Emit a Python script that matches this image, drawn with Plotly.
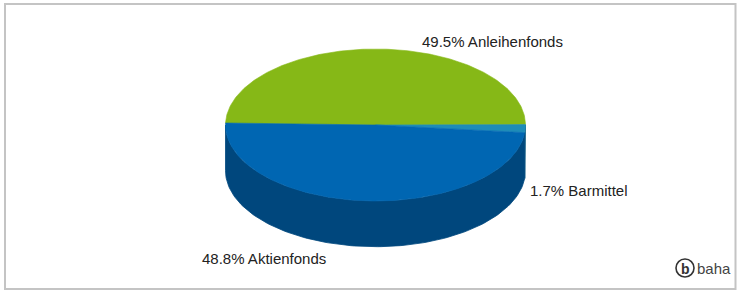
import numpy as np
import plotly.graph_objects as go

# ---- data ----
categories = ["Anleihenfonds", "Barmittel", "Aktienfonds"]
values = [49.5, 1.7, 48.8]
top_colors = ["#86B817", "#1E8CB8", "#0066B2"]
side_colors = ["#5E8210", "#146283", "#00477D"]
label_texts = [f"{v:.1f}% {c}" for c, v in zip(categories, values)]

# ---- geometry (layout) ----
W, H = 737, 291
cx, cy, rx, ry, depth = 375.5, 125.0, 150.0, 76.0, 45.7
start_angle = 178.5  # degrees, slices proceed clockwise

def pt(theta_deg, dy=0.0):
    t = np.radians(theta_deg)
    return cx + rx * np.cos(t), cy - ry * np.sin(t) + dy

total = sum(values)
spans = []
a = start_angle
for v in values:
    b = a - v / total * 360.0
    spans.append((b, a))
    a = b

fig = go.Figure()

# side faces (front half only)
for (lo, hi), col in zip(spans, side_colors):
    for k in (-1, 0, 1):
        s_lo = max(lo, -180 + 360 * k)
        s_hi = min(hi, 0 + 360 * k)
        if s_hi - s_lo <= 0:
            continue
        th = np.linspace(s_lo, s_hi, 120)
        xt, yt = pt(th)
        xb, yb = pt(th[::-1], depth)
        xs = np.concatenate([xt, xb, xt[:1]])
        ys = np.concatenate([yt, yb, yt[:1]])
        fig.add_trace(go.Scatter(x=xs, y=ys, mode="lines", fill="toself",
                                 fillcolor=col, line=dict(color=col, width=0.8),
                                 hoverinfo="skip", showlegend=False))

# top faces
for (lo, hi), col in zip(spans, top_colors):
    th = np.linspace(hi, lo, 240)
    xa, ya = pt(th)
    xs = np.concatenate([[cx], xa, [cx]])
    ys = np.concatenate([[cy], ya, [cy]])
    fig.add_trace(go.Scatter(x=xs, y=ys, mode="lines", fill="toself",
                             fillcolor=col, line=dict(color=col, width=0.6),
                             hoverinfo="skip", showlegend=False))

label_pos = [(420, 41.5), (528, 190.5), (200, 258.5)]
annotations = []
for txt, (lx, ly) in zip(label_texts, label_pos):
    annotations.append(dict(x=lx, y=ly, xref="x", yref="y", text=txt,
                            showarrow=False, xanchor="left", yanchor="middle",
                            font=dict(family="Liberation Sans, Arial", size=15, color="#222222")))

# baha logo
annotations.append(dict(x=685, y=268.5, xref="x", yref="y", text="<b>b</b>",
                        showarrow=False, xanchor="center", yanchor="middle",
                        font=dict(family="Liberation Sans, Arial", size=14, color="#333333")))
annotations.append(dict(x=695, y=268, xref="x", yref="y", text="baha",
                        showarrow=False, xanchor="left", yanchor="middle",
                        font=dict(family="Liberation Sans, Arial", size=15, color="#444444")))

shapes = [
    dict(type="rect", xref="x", yref="y", x0=5, y0=4, x1=735.5, y1=289,
         line=dict(color="#C4C4C4", width=2), fillcolor="rgba(0,0,0,0)", layer="below"),
    dict(type="circle", xref="x", yref="y", x0=676, y0=259, x1=694, y1=277,
         line=dict(color="#333333", width=1.6), fillcolor="rgba(0,0,0,0)"),
]

fig.update_layout(
    width=W, height=H, autosize=False,
    margin=dict(l=0, r=0, t=0, b=0),
    paper_bgcolor="white", plot_bgcolor="white",
    xaxis=dict(range=[0, W], visible=False, fixedrange=True),
    yaxis=dict(range=[H, 0], visible=False, fixedrange=True),
    annotations=annotations, shapes=shapes,
    showlegend=False,
)

fig.write_html("out.html", config={"displayModeBar": False},
               post_script="document.body.style.margin='0';document.body.style.overflow='hidden';")
